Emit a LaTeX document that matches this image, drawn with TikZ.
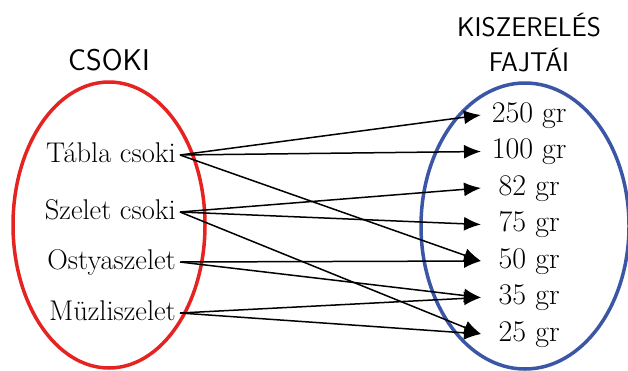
\documentclass[tikz,border=0pt]{standalone}
\usetikzlibrary{arrows.meta}
\definecolor{setred}{RGB}{229,36,33}
\definecolor{setblue}{RGB}{58,86,165}
\tikzset{
	elem/.style={inner ysep=0pt, text height=14pt, text depth=0pt},
	leftelem/.style={elem, inner xsep=4pt, anchor=east, font=\fontsize{28.5}{32}\selectfont},
	rightelem/.style={elem, inner xsep=0pt, anchor=west, minimum width=96pt, align=center, font=\fontsize{30}{34}\selectfont},
	settitle/.style={inner sep=0pt, align=center, font=\sffamily\fontsize{27}{35}\selectfont},
	map/.style={-{Latex[length=17pt,width=14pt]}, line width=1.5pt},
}
\begin{document}
		\begin{tikzpicture}[x=1pt,y=-1pt]
			\useasboundingbox (0,0) rectangle (628,370);
			\draw[setred, line width=3.5pt] (109,225) ellipse (96 and 143);
			\draw[setblue, line width=3.5pt] (525,226) ellipse (104 and 143);
			\node[settitle, anchor=base, font=\sffamily\fontsize{30}{35}\selectfont] (csoki) at (109,70) {CSOKI};
			\node[settitle, anchor=south] (kisz) at (529,72) {KISZERELÉS\\FAJTÁI};
			\node[leftelem] (tabla) at (180,155) {Tábla csoki};
			\node[leftelem] (szelet) at (180,212) {Szelet csoki};
			\node[leftelem] (ostya) at (180,262) {Ostyaszelet};
			\node[leftelem] (muzli) at (180,313) {Müzliszelet};
			\node[rightelem] (g250) at (481,115) {250 gr};
			\node[rightelem] (g100) at (481,151.5) {100 gr};
			\node[rightelem] (g82) at (481,188) {82 gr};
			\node[rightelem] (g75) at (481,224.5) {75 gr};
			\node[rightelem] (g50) at (481,261) {50 gr};
			\node[rightelem] (g35) at (481,297.5) {35 gr};
			\node[rightelem] (g25) at (481,334) {25 gr};
			\foreach \a/\b in {tabla/g250,tabla/g100,tabla/g50,szelet/g82,szelet/g75,szelet/g25,ostya/g50,ostya/g35,muzli/g35,muzli/g25}
				\draw[map] (\a.east) -- (\b.west);
		\end{tikzpicture}
\end{document}
